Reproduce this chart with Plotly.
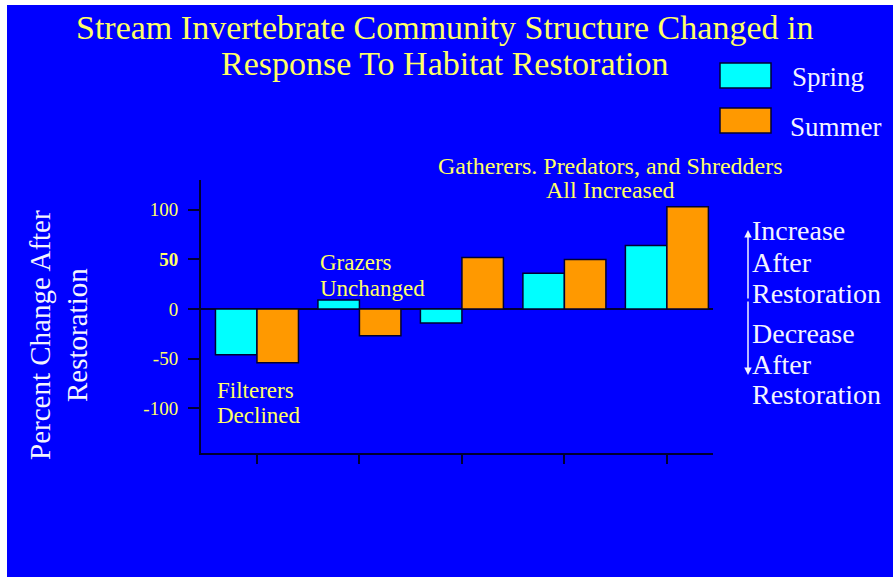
import plotly.graph_objects as go

# ---- data ----
groups = ["Filterers", "Grazers", "Gatherers", "Predators", "Shredders"]
spring = [-46, 9, -14, 36, 64]
summer = [-54, -27, 52, 50, 103]
y_ticks = [-100, -50, 0, 50, 100]
y_tick_text = ["-100", "-50", "0", "<b>50</b>", "100"]

# ---- layout geometry (pixels) ----
FIG_W, FIG_H = 893, 577
L, R, T, B = 201, 713, 180, 453
PW, PH = R - L, B - T

def px(x):
    return (x - L) / PW

def py(y):
    return (B - y) / PH

BLUE = "#0000FF"
CYAN = "#00FFFF"
ORANGE = "#FF9900"
YEL = "#FFFF66"
WHITE = "#F4F4FF"
DARK = "#000033"
SERIF = "Liberation Serif, Times New Roman, serif"

fig = go.Figure()
fig.add_trace(go.Bar(x=list(range(len(groups))), y=spring, name="Spring",
                     marker=dict(color=CYAN, line=dict(color=DARK, width=1.5))))
fig.add_trace(go.Bar(x=list(range(len(groups))), y=summer, name="Summer",
                     marker=dict(color=ORANGE, line=dict(color=DARK, width=1.5))))

shapes = [
    # white strips at left and top edge
    dict(type="rect", xref="paper", yref="paper", x0=px(0), x1=px(7), y0=py(FIG_H), y1=py(0),
         fillcolor="white", line=dict(width=0), layer="above"),
    dict(type="rect", xref="paper", yref="paper", x0=px(0), x1=px(FIG_W), y0=py(5), y1=py(0),
         fillcolor="white", line=dict(width=0), layer="above"),
    # legend boxes
    dict(type="rect", xref="paper", yref="paper", x0=px(720), x1=px(771), y0=py(88), y1=py(63),
         fillcolor=CYAN, line=dict(color=DARK, width=1.5)),
    dict(type="rect", xref="paper", yref="paper", x0=px(720), x1=px(771), y0=py(133), y1=py(108),
         fillcolor=ORANGE, line=dict(color=DARK, width=1.5)),
]


def txt(text, x, y, size, color, xanchor="left", angle=0):
    return dict(text=text, x=px(x), y=py(y), xref="paper", yref="paper", showarrow=False,
                xanchor=xanchor, yanchor="middle", textangle=angle,
                font=dict(family=SERIF, size=size, color=color))


annotations = [
    txt("Stream Invertebrate Community Structure Changed in", 444, 27, 34, YEL, "center"),
    txt("Response To Habitat Restoration", 444, 64, 34, YEL, "center"),
    txt("Spring", 790, 77, 27, WHITE),
    txt("Summer", 788, 127, 27, WHITE),
    txt("Filterers", 215, 390, 23, YEL),
    txt("Declined", 215, 415, 23, YEL),
    txt("Grazers", 318, 262, 23, YEL),
    txt("Unchanged", 318, 288, 23, YEL),
    txt("Gatherers. Predators, and Shredders", 610, 166, 24, YEL, "center"),
    txt("All Increased", 610, 190, 24, YEL, "center"),
    txt("Increase", 750, 230, 28, WHITE),
    txt("After", 750, 262, 28, WHITE),
    txt("Restoration", 750, 293, 28, WHITE),
    txt("Decrease", 750, 333, 28, WHITE),
    txt("After", 750, 364, 28, WHITE),
    txt("Restoration", 750, 394, 28, WHITE),
    txt("Percent Change After", 40, 335, 29, WHITE, "center", -90),
    txt("Restoration", 77, 335, 29, WHITE, "center", -90),
    # double arrow on the right
    dict(x=px(748), y=py(230), ax=0, ay=70, xref="paper", yref="paper",
         axref="pixel", ayref="pixel", text="", showarrow=True, arrowhead=2, arrowsize=1,
         arrowwidth=1.5, arrowcolor=WHITE),
    dict(x=px(748), y=py(375), ax=0, ay=-75, xref="paper", yref="paper",
         axref="pixel", ayref="pixel", text="", showarrow=True, arrowhead=2, arrowsize=1,
         arrowwidth=1.5, arrowcolor=WHITE),
]

fig.update_layout(
    width=FIG_W, height=FIG_H,
    margin=dict(l=L, r=FIG_W - R, t=T, b=FIG_H - B, pad=0),
    paper_bgcolor=BLUE, plot_bgcolor=BLUE,
    barmode="group", bargap=0.19, bargroupgap=0,
    showlegend=False,
    shapes=shapes, annotations=annotations,
    xaxis=dict(range=[-0.546, 4.45], showgrid=False, zeroline=False,
               showline=True, linecolor=DARK, linewidth=2,
               tickvals=list(range(len(groups))), showticklabels=False,
               ticks="outside", ticklen=9, tickcolor=DARK, tickwidth=2),
    yaxis=dict(range=[-145, 130], showgrid=False,
               zeroline=True, zerolinecolor=DARK, zerolinewidth=2,
               showline=True, linecolor=DARK, linewidth=2,
               tickvals=y_ticks, ticktext=y_tick_text,
               ticks="outside", ticklen=11, tickcolor=DARK, tickwidth=2,
               ticklabelstandoff=6,
               tickfont=dict(family=SERIF, size=19, color=YEL)),
)

fig.write_html("out.html")
